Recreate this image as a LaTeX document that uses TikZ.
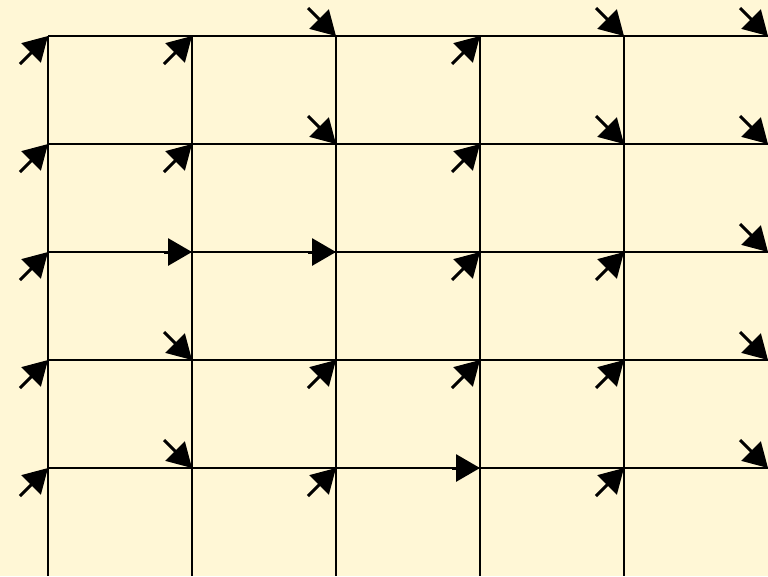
\documentclass[tikz,border=0pt]{standalone}
\usetikzlibrary{arrows.meta}
\definecolor{bg}{RGB}{255,247,214}
\begin{document}
\begin{tikzpicture}[x=1pt,y=-1pt,
 gridline/.style={line width=2pt,black},
 ptr/.style={line width=3pt,black,-{Triangle[length=24pt,width=27pt]}}]
\fill[bg] (0,0) rectangle (768,576);
\useasboundingbox (0,0) rectangle (768,576);
\foreach \i/\x in {0/48,1/192,2/336,3/480,4/624,5/768} {
  \foreach \j/\y in {0/36,1/144,2/252,3/360,4/468} {
    \coordinate (g\i\j) at (\x,\y);
  }
  \coordinate (b\i) at (\x,576);
}
\foreach \j in {0,...,4} { \draw[gridline] (g0\j) -- (g5\j); }
\foreach \i in {0,...,4} { \draw[gridline] (g\i0) -- (b\i); }
\foreach \i/\j/\dx/\dy in {
  0/0/-28/28, 1/0/-28/28, 2/0/-28/-28, 3/0/-28/28, 4/0/-28/-28, 5/0/-28/-28,
  0/1/-28/28, 1/1/-28/28, 2/1/-28/-28, 3/1/-28/28, 4/1/-28/-28, 5/1/-28/-28,
  0/2/-28/28, 1/2/-28/0,  2/2/-28/0,   3/2/-28/28, 4/2/-28/28,  5/2/-28/-28,
  0/3/-28/28, 1/3/-28/-28,2/3/-28/28,  3/3/-28/28, 4/3/-28/28,  5/3/-28/-28,
  0/4/-28/28, 1/4/-28/-28,2/4/-28/28,  3/4/-28/0,  4/4/-28/28,  5/4/-28/-28} {
  \coordinate (s\i\j) at ([shift={(\dx,\dy)}]g\i\j);
  \draw[ptr] (s\i\j) -- (g\i\j);
}
\end{tikzpicture}
\end{document}
